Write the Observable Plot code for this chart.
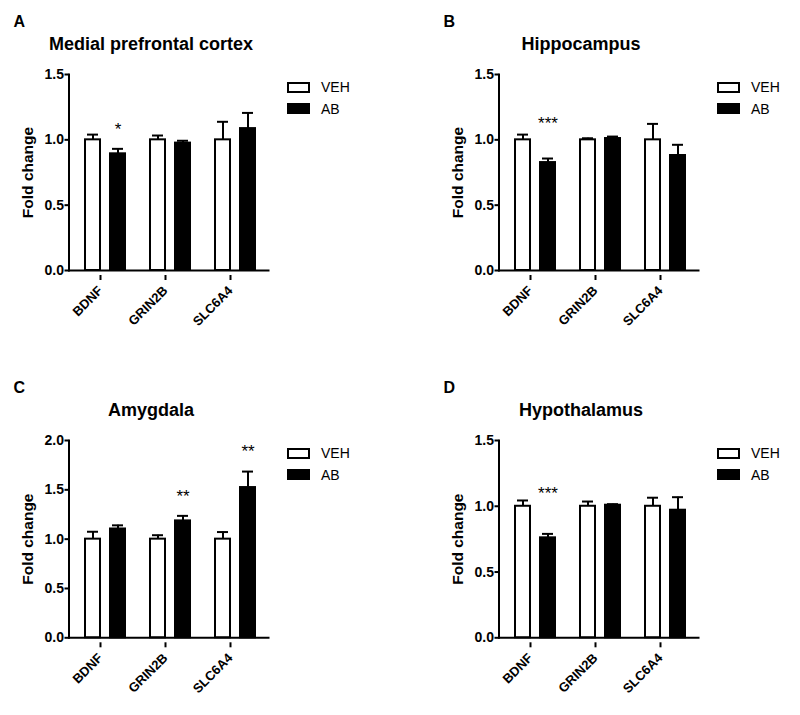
<!DOCTYPE html>
<html><head><meta charset="utf-8">
<script src="https://cdn.jsdelivr.net/npm/d3@7"></script>
<script src="https://cdn.jsdelivr.net/npm/@observablehq/plot@0.6"></script>
<style>
body{margin:0;background:#fff;font-family:"Liberation Sans",Arial,Helvetica,sans-serif;}
#root{position:relative;width:800px;height:715px;overflow:hidden;background:#fff}
.panel{position:absolute}
.panel svg{position:absolute;left:0;top:0}
.panel svg g[aria-label="title"] text{word-spacing:5px}
.lg-box{position:absolute;width:23px;height:11px;box-sizing:border-box;border:2px solid #000;}
.lg-txt{position:absolute;font-size:14px;line-height:14px;color:#000;white-space:nowrap}
</style></head><body><div id="root"></div>
<script>
// ---- data ----
const genes = ["BDNF", "GRIN2B", "SLC6A4"];
const groups = ["VEH", "AB"];
const regions = ["Medial prefrontal cortex", "Hippocampus", "Amygdala", "Hypothalamus"];
const panelLetters = ["A", "B", "C", "D"];
const vehMean = [[1, 1, 1], [1, 1, 1], [1, 1, 1], [1, 1, 1]];
const vehSem  = [[0.04, 0.033, 0.138], [0.04, 0.012, 0.122], [0.075, 0.04, 0.072], [0.044, 0.036, 0.065]];
const abMean  = [[0.893, 0.975, 1.086], [0.826, 1.01, 0.88], [1.103, 1.185, 1.523], [0.76, 1.008, 0.97]];
const abSem   = [[0.038, 0.018, 0.12], [0.031, 0.015, 0.082], [0.037, 0.051, 0.162], [0.03, 0.008, 0.099]];
const yMax = [1.5, 1.5, 2.0, 1.5];
const yTicks = [[0, 0.5, 1, 1.5], [0, 0.5, 1, 1.5], [0, 0.5, 1, 1.5, 2], [0, 0.5, 1, 1.5]];
const starPanel = [0, 1, 2, 2, 3];
const starGene  = ["BDNF", "BDNF", "GRIN2B", "SLC6A4", "BDNF"];
const starText  = ["*", "***", "**", "**", "***"];
const starY     = [1.109, 1.153, 1.472, 1.925, 1.125];
const yLabel = "Fold change";

// ---- layout ----
const panelLeft = [0, 430, 0, 430];
const panelTop = [0, 0, 366, 366];
const svgH = [340, 340, 349, 349];
const mBottom = [70, 70, 77.7, 77.7];
const font = "Liberation Sans, Arial, Helvetica, sans-serif";

const root = document.getElementById("root");
regions.forEach((region, i) => {
  const veh = genes.map((g, j) => ({gene: g, mean: vehMean[i][j], top: vehMean[i][j] + vehSem[i][j]}));
  const ab = genes.map((g, j) => ({gene: g, mean: abMean[i][j], top: abMean[i][j] + abSem[i][j]}));
  const stars = starPanel.map((p, k) => ({p, gene: starGene[k], text: starText[k], y: starY[k]})).filter(d => d.p === i);

  const chart = Plot.plot({
    width: 400, height: svgH[i],
    marginLeft: 68.5, marginRight: 132, marginTop: 74, marginBottom: mBottom[i],
    style: {fontFamily: font, fontSize: "14px", fontWeight: "bold", color: "#000", background: "transparent", overflow: "visible"},
    x: {domain: genes, range: [84.3, 255.3], paddingInner: 0.389, paddingOuter: 0, axis: null},
    y: {domain: [0, yMax[i]], axis: null},
    marks: [
      Plot.ruleX(veh, {x: "gene", y1: "mean", y2: "top", dx: -12.5, strokeWidth: 2, stroke: "#000"}),
      Plot.ruleX(ab, {x: "gene", y1: "mean", y2: "top", dx: 12.5, strokeWidth: 2, stroke: "#000"}),
      Plot.tickY(veh, {x: "gene", y: "top", insetLeft: 2, insetRight: 27, strokeWidth: 2, stroke: "#000"}),
      Plot.tickY(ab, {x: "gene", y: "top", insetLeft: 27, insetRight: 2, strokeWidth: 2, stroke: "#000"}),
      Plot.barY(veh, {x: "gene", y: "mean", fill: "white", stroke: "#000", strokeWidth: 2, insetRight: 25}),
      Plot.barY(ab, {x: "gene", y: "mean", fill: "#000", stroke: "#000", strokeWidth: 2, insetLeft: 25}),
      Plot.text(stars, {x: "gene", y: "y", text: "text", dx: 12.5, dy: 4, fontSize: 17, fontWeight: "normal", fill: "#000"}),
      Plot.axisY({ticks: yTicks[i], tickFormat: d3.format(".1f"), tickSize: 4, tickPadding: 1, strokeWidth: 2, label: null, fontSize: 14}),
      Plot.axisX({tickSize: 5, tickRotate: -45, tickPadding: 8, dx: -5, dy: 5, strokeWidth: 2, label: null, fontSize: 13}),
      Plot.frame({anchor: "left", strokeWidth: 2}),
      Plot.frame({anchor: "bottom", strokeWidth: 2}),
      Plot.text([region], {text: d => d, ariaLabel: "title", frameAnchor: "top-left", dx: 82, dy: -25, textAnchor: "middle", lineAnchor: "bottom", fontSize: 18}),
      Plot.text([panelLetters[i]], {text: d => d, frameAnchor: "top-left", dx: -55.5, dy: -48, textAnchor: "start", lineAnchor: "bottom", fontSize: 16}),
      Plot.text([yLabel], {text: d => d, frameAnchor: "left", rotate: -90, dx: -40.5, textAnchor: "middle", lineAnchor: "middle", fontSize: 15.5})
    ]
  });

  const panel = document.createElement("div");
  panel.className = "panel";
  panel.style.left = panelLeft[i] + "px";
  panel.style.top = panelTop[i] + "px";
  panel.style.width = "400px";
  panel.style.height = svgH[i] + "px";
  panel.appendChild(chart);

  groups.forEach((g, k) => {
    const box = document.createElement("div");
    box.className = "lg-box";
    box.style.left = "287px";
    box.style.top = (82 + 21 * k) + "px";
    box.style.background = k === 0 ? "#fff" : "#000";
    panel.appendChild(box);
    const t = document.createElement("div");
    t.className = "lg-txt";
    t.style.left = "321px";
    t.style.top = (80 + 22 * k) + "px";
    t.textContent = g;
    panel.appendChild(t);
  });
  root.appendChild(panel);
});
</script>
</body></html>
